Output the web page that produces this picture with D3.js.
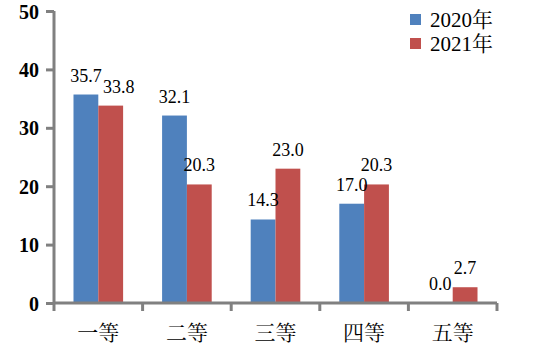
<!DOCTYPE html>
<html>
<head>
<meta charset="utf-8">
<script src="https://cdn.jsdelivr.net/npm/d3@7"></script>
</head>
<body style="margin:0; background:#fff">
<div id="wrapper"></div>
<script>
const categories = ["一等", "二等", "三等", "四等", "五等"];
const seriesNames = ["2020年", "2021年"];
const values2020 = [35.7, 32.1, 14.3, 17.0, 0.0];
const values2021 = [33.8, 20.3, 23.0, 20.3, 2.7];
const yTicks = [0, 10, 20, 30, 40, 50];

const colors = ["#4f81bd", "#c0504d"];
const seriesValues = [values2020, values2021];
const fontStack = "'Liberation Serif', 'Noto Serif CJK SC', serif";

// dimensions
const dms = {
  width: 554,
  height: 354,
  margins: { top: 11, right: 57, bottom: 51, left: 54 }
};
dms.innerWidth = dms.width - dms.margins.left - dms.margins.right;
dms.innerHeight = dms.height - dms.margins.top - dms.margins.bottom;

const svg = d3.select("#wrapper")
  .append("svg")
    .attr("width", dms.width)
    .attr("height", dms.height);

const inner = svg.append("g")
  .attr("transform", `translate(${dms.margins.left},${dms.margins.top})`);

// scales
const xScale = d3.scaleBand()
  .domain(categories)
  .range([0, dms.innerWidth]);

const bw = xScale.bandwidth();
const xSub = d3.scaleBand()
  .domain(seriesNames)
  .range([bw * 0.22, bw * 0.78]);

const yScale = d3.scaleLinear()
  .domain([0, 50])
  .range([dms.innerHeight, 0]);

// bars
const rows = categories.map((c, i) => ({
  cat: c,
  items: seriesNames.map((s, j) => ({ s, j, v: seriesValues[j][i] }))
}));

const groups = inner.selectAll(".cat")
  .data(rows)
  .join("g")
    .attr("class", "cat")
    .attr("transform", d => `translate(${xScale(d.cat)},0)`);

groups.selectAll("rect")
  .data(d => d.items)
  .join("rect")
    .attr("x", d => xSub(d.s))
    .attr("y", d => yScale(d.v))
    .attr("width", xSub.bandwidth())
    .attr("height", d => dms.innerHeight - yScale(d.v))
    .attr("fill", d => colors[d.j]);

// value labels
groups.selectAll(".val")
  .data((d, i) => d.items.map(it => ({ ...it, ci: i })))
  .join("text")
    .attr("class", "val")
    // nudge the first 2021 label right so it clears its neighbour
    .attr("x", d => xSub(d.s) + xSub.bandwidth() / 2 + (d.ci === 0 && d.j === 1 ? 8 : 0))
    .attr("y", d => yScale(d.v) - 13)
    .attr("text-anchor", "middle")
    .style("font-size", "18px")
    .text(d => d3.format(".1f")(d.v));

// axes
const axisColor = "#808080";

const yAxis = inner.append("g")
  .call(d3.axisLeft(yScale).tickValues(yTicks).tickSize(8).tickPadding(7));
yAxis.select(".domain")
  .attr("d", `M0,${dms.innerHeight}V0`);

const xAxis = inner.append("g")
  .attr("transform", `translate(0,${dms.innerHeight})`)
  .call(d3.axisBottom(xScale).tickSize(0).tickPadding(22));
xAxis.select(".domain")
  .attr("d", `M0,0H${dms.innerWidth}`);

// category boundary ticks
xAxis.selectAll(".bound")
  .data(categories.concat([null]))
  .join("line")
    .attr("class", "bound")
    .attr("x1", (d, i) => i * xScale.step())
    .attr("x2", (d, i) => i * xScale.step())
    .attr("y1", 0)
    .attr("y2", 8)
    .attr("stroke", axisColor)
    .attr("stroke-width", 3);

[yAxis, xAxis].forEach(ax => {
  ax.select(".domain").attr("stroke", axisColor).attr("stroke-width", 3);
  ax.selectAll(".tick line").attr("stroke", axisColor).attr("stroke-width", 3);
});
yAxis.selectAll(".tick text")
  .style("font-size", "20px")
  .style("font-weight", "bold")
  .attr("dy", "0.35em");
xAxis.selectAll(".tick text")
  .style("font-size", "21px");

// legend
const legend = svg.append("g")
  .attr("transform", "translate(410,14)");

const legendItems = legend.selectAll("g")
  .data(seriesNames)
  .join("g")
    .attr("transform", (d, i) => `translate(0,${i * 24})`);

legendItems.append("rect")
  .attr("width", 11)
  .attr("height", 11)
  .attr("fill", (d, i) => colors[i]);

legendItems.append("text")
  .attr("x", 20)
  .attr("y", 6)
  .attr("dy", "0.35em")
  .style("font-size", "21px")
  .text(d => d);

// serif everywhere, like the original
svg.selectAll("text")
  .style("font-family", fontStack)
  .style("fill", "#000");
</script>
</body>
</html>
